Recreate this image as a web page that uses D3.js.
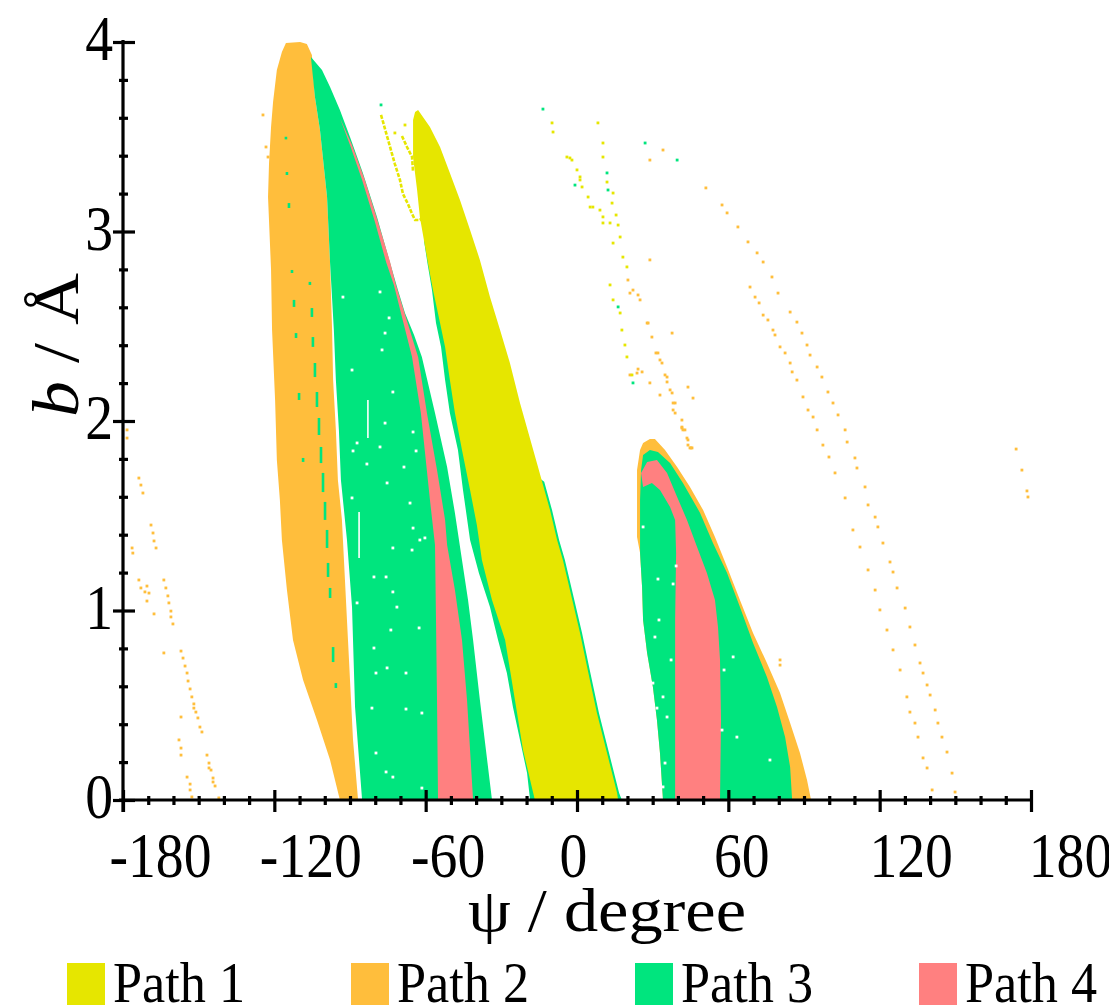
<!DOCTYPE html>
<html>
<head>
<meta charset="utf-8">
<script src="https://cdn.jsdelivr.net/npm/d3@7"></script>
<style>
  html, body { margin: 0; padding: 0; background: #fff; }
  svg { display: block; }
  text { font-family: "Liberation Serif", "DejaVu Serif", serif; fill: #000; }
</style>
</head>
<body>
<svg id="chart" width="1109" height="1008"></svg>
<script>
// ---- series names and colours ----
const pathNames = ["Path 1", "Path 2", "Path 3", "Path 4"];
const pathColors = ["#e6e600", "#ffbe3c", "#00e57e", "#ff8080"];

// ---- axis ticks ----
const xMajorTicks = [-180, -120, -60, 0, 60, 120, 180];
const xMinorTicks = d3.range(-180, 181, 10);
const yMajorTicks = [0, 1, 2, 3, 4];
const yMinorTicks = d3.range(0, 21).map(i => i / 5);

// ---- reactive regions, [psi (degree), b (Å)] ----
// Path 2: large lobe at negative psi
const path2Main = [
  [-119.0,3.852],[-117.0,3.947],[-115.4,3.995],[-109.8,4.0],[-107.1,3.989],[-105.1,3.931],
  [-103.9,3.710],[-101.9,3.536],[-99.1,3.182],[-97.9,2.834],[-97.1,2.480],[-96.7,2.216],
  [-95.6,1.953],[-94.8,1.689],[-93.2,1.478],[-92.8,1.372],[-90.8,0.844],[-88.8,0.317],
  [-86.8,0],[-94.0,0],[-97.9,0.211],[-103.1,0.422],[-108.6,0.633],[-112.6,0.844],
  [-115.0,1.108],[-117.0,1.372],[-117.8,1.583],[-119.0,1.794],[-119.7,2.111],[-120.9,2.480],
  [-121.3,2.797],[-122.5,3.182],[-122.1,3.361],[-121.3,3.551],[-120.5,3.683]
];
// Path 3: band right of the Path 2 lobe
const path3Main = [
  [-105.5,3.921],[-103.9,3.710],[-101.9,3.536],[-99.1,3.182],[-97.9,2.834],[-96.4,2.480],
  [-95.6,2.216],[-94.4,1.953],[-93.6,1.689],[-92.0,1.478],[-91.2,1.372],[-89.2,1.018],
  [-88.0,0.491],[-85.2,0],
  [-33.7,0],[-36.1,0.264],[-38.5,0.528],[-41.2,0.844],[-43.2,1.055],[-45.6,1.266],
  [-48.4,1.515],[-51.5,1.757],[-56.3,2.042],[-61.5,2.338],[-64.6,2.454],[-68.2,2.570],
  [-71.0,2.691],[-74.1,2.834],[-79.3,3.077],[-84.9,3.309],[-90.0,3.499],[-94.0,3.641],
  [-97.9,3.763],[-101.1,3.852]
];
// Path 4: sliver along the right edge of that band
const path4Main = [
  [-94.0,3.599],[-89.2,3.456],[-84.1,3.272],[-78.9,3.050],[-74.1,2.839],[-71.8,2.718],
  [-63.0,2.338],[-59.5,2.042],[-55.5,1.741],[-52.3,1.478],[-51.5,1.346],[-48.4,1.108],
  [-45.6,0.844],[-43.6,0.528],[-41.2,0],
  [-55.1,0],[-55.5,0.528],[-55.9,0.950],[-56.3,1.346],[-58.3,1.583],[-61.9,2.042],
  [-65.4,2.338],[-72.6,2.718],[-75.7,2.839],[-80.1,3.050],[-85.2,3.272],[-90.0,3.456]
];
// Path 3: thin band hugging the Path 1 streak (its inner part sits under Path 1)
const path3Band = [
  [-60.7,2.955],[-59.3,2.834],[-57.5,2.691],[-55.9,2.517],[-53.9,2.391],[-52.3,2.216],
  [-50.4,2.042],[-47.2,1.847],[-45.2,1.636],[-42.4,1.372],[-38.9,1.198],[-34.5,1.018],
  [-31.3,0.844],[-27.8,0.670],[-25.4,0.491],[-22.6,0.317],[-19.8,0.142],[-18.6,0],
  [17.8,0],[16.7,0.037],[12.7,0.248],[8.7,0.459],[4.8,0.702],[2.0,0.881],[-2.0,1.108],
  [-4.8,1.266],[-7.1,1.372],[-9.9,1.530],[-13.0,1.680],[-20.0,1.750],[-30.0,2.200],
  [-40.0,2.600],[-50.0,2.900]
];
// Path 1: main diagonal streak
const path1Main = [
  [-63.0,3.641],[-58.3,3.551],[-54.3,3.446],[-50.4,3.309],[-46.4,3.166],[-42.4,3.008],
  [-38.5,2.850],[-34.5,2.654],[-30.5,2.480],[-26.6,2.306],[-22.6,2.095],[-15.9,1.778],
  [-10.7,1.530],[-7.9,1.372],[-5.6,1.266],[-2.8,1.108],[1.2,0.881],[4.0,0.702],
  [7.9,0.459],[11.9,0.248],[15.9,0.037],[16.3,0],
  [-16.7,0],[-21.4,0.264],[-24.6,0.528],[-28.5,0.844],[-33.7,1.055],[-37.7,1.266],
  [-39.7,1.451],[-42.4,1.636],[-45.6,1.847],[-48.4,2.042],[-50.4,2.216],[-52.3,2.391],
  [-54.3,2.517],[-57.1,2.691],[-59.1,2.834],[-60.7,2.955],[-62.3,3.077],[-63.4,3.219],
  [-65.0,3.393],[-65.0,3.588],[-64.2,3.630]
];
// Path 1: fine filaments left of the streak tip
const path1TailOuter = [
  [-77.7,3.615],[-76.9,3.578],[-74.9,3.483],[-72.2,3.356],[-70.2,3.272],[-69.0,3.198],
  [-67.0,3.145],[-65.4,3.093],[-64.2,3.061],[-62.3,3.061],[-61.1,3.077]
];
const path1TailInner = [[-69.4,3.504],[-67.4,3.446],[-65.4,3.393],[-65.0,3.314]];

// Right-hand lobe
const path2Lobe = [
  [34.1,0],[32.9,0.248],[31.7,0.422],[30.1,0.596],[27.8,0.776],[26.2,0.950],[25.8,1.124],
  [25.0,1.303],[23.8,1.388],[23.8,1.741],[25.0,1.847],[26.2,1.884],[28.9,1.905],[30.9,1.905],
  [34.9,1.847],[39.7,1.757],[44.8,1.652],[50.0,1.530],[54.7,1.388],[59.5,1.230],[64.6,1.055],
  [69.8,0.881],[75.3,0.723],[80.5,0.565],[84.5,0.406],[88.4,0.248],[91.2,0.106],[92.8,0]
];
const path3Lobe = [
  [34.1,0],[32.9,0.248],[31.7,0.422],[30.1,0.596],[27.8,0.776],[26.2,0.950],[25.8,1.124],
  [25.0,1.303],[25.0,1.583],[25.4,1.741],[26.2,1.821],[28.9,1.847],[32.1,1.836],[36.9,1.778],
  [42.0,1.673],[48.8,1.515],[53.9,1.356],[59.5,1.198],[64.6,1.018],[69.8,0.828],[75.3,0.649],
  [79.3,0.491],[82.5,0.332],[84.5,0.174],[85.3,0]
];
const path4Lobe = [
  [25.4,1.726],[27.8,1.784],[31.7,1.794],[35.7,1.726],[39.7,1.599],[43.6,1.478],[47.6,1.335],
  [51.5,1.198],[54.7,1.055],[55.9,0.913],[56.7,0.739],[57.1,0.422],[56.7,0],
  [38.9,0],[38.9,0.528],[38.9,0.950],[39.3,1.303],[38.9,1.478],[36.9,1.546],[32.9,1.636],
  [29.7,1.673],[26.2,1.652]
];

// Path 3 runs inside the Path 2 lobe: [psi, b top, b bottom]
const path3Streaks = [
  [-112.2,2.639,2.602],[-105.1,2.596,2.549],[-111.4,2.464,2.438],[-104.7,2.443,2.391],
  [-103.9,2.306,2.232],[-110.2,2.148,2.111],[-103.1,2.153,2.074],[-102.3,2.016,1.926],
  [-101.5,1.863,1.778],[-108.6,1.805,1.784],[-100.7,1.726,1.625],[-99.9,1.573,1.478],
  [-99.1,1.425,1.330],[-115.4,3.500,3.486],[-115.0,3.314,3.298],[-114.2,3.150,3.124],
  [-113.0,2.797,2.781],[-105.9,2.734,2.718],[-98.7,1.251,1.177],[-97.9,1.119,1.066],
  [-96.7,0.807,0.728],[-95.6,0.617,0.591]
];
// unreacted samples inside the coloured regions
const gapDots = [
  [-92.8,2.654],[-78.1,2.681],[-74.5,2.544],[-76.1,2.464],[-77.3,2.375],[-89.2,2.269],
  [-73.0,2.153],[-76.1,1.989],[-65.0,1.942],[-87.2,1.884],[-78.1,1.863],[-88.8,1.842],
  [-63.8,1.842],[-83.3,1.773],[-68.6,1.757],[-75.3,1.673],[-89.2,1.594],[-66.2,1.567],
  [-65.0,1.435],[-73.0,1.330],[-65.4,1.319],[-62.3,1.372],[-60.3,1.383],[-80.5,1.177],
  [-75.7,1.177],[-73.0,1.098],[-87.2,1.040],[-71.4,1.018],[-73.8,0.897],[-62.6,0.908],
  [-80.5,0.802],[-75.3,0.697],[-67.8,0.670],[-79.7,0.670],[-81.3,0.485],[-67.8,0.480],
  [-61.5,0.459],[-79.7,0.248],[-75.7,0.148],[-73.0,0.121],[-61.5,0.063],
  [26.2,1.441],[39.3,1.235],[32.1,1.166],[38.1,1.140],[32.5,0.950],[30.9,0.860],[37.3,0.739],
  [61.9,0.755],[58.3,0.686],[30.1,0.617],[34.1,0.544],[31.7,0.485],[35.7,0.438],[63.4,0.332],
  [34.9,0.195],[34.1,0.069],[76.5,0.211],[57.5,0.369]
];
// thin unreacted seams: [psi, b top, b bottom]
const gapSeams = [[-82.9,2.111,1.910],[-86.4,1.520,1.277]];

// ---- isolated trajectories ----
const path2Dots = [
  [-178.4,1.953],[-178.4,1.910],[-173.7,1.699],[-172.9,1.662],[-172.1,1.620],[-168.9,1.451],
  [-168.1,1.409],[-167.7,1.367],[-166.9,1.330],[-176.4,1.330],[-176.1,1.303],[-173.7,1.161],
  [-172.9,1.119],[-171.3,1.098],[-170.5,1.129],[-169.7,1.092],[-170.5,1.050],[-167.7,0.982],
  [-163.8,1.161],[-163.0,1.119],[-162.2,1.077],[-161.8,1.040],[-161.0,0.997],[-161.0,0.966],
  [-160.2,0.929],[-163.8,0.776],[-157.0,0.786],[-156.2,0.749],[-155.4,0.707],[-154.6,0.670],
  [-154.2,0.628],[-153.4,0.586],[-152.7,0.544],[-151.9,0.507],[-151.9,0.485],[-151.1,0.464],
  [-150.3,0.433],[-149.5,0.385],[-148.7,0.359],[-157.0,0.438],[-157.8,0.317],[-157.0,0.274],
  [-157.0,0.237],[-146.7,0.237],[-145.9,0.195],[-145.9,0.169],[-145.1,0.158],[-144.3,0.116],
  [-144.3,0.095],[-143.5,0.074],[-154.6,0.121],[-153.4,0.084],[-153.4,0.053],[-152.7,0.016],
  [-142.0,0.011],[-124.5,3.615],[-123.3,3.446],[-122.5,3.393],
  [23.8,2.253],[28.9,2.201],[32.9,2.137],[38.1,2.058],[42.0,1.953],[44.0,1.900],[45.6,1.858],
  [20.2,2.744],[21.0,2.675],[22.2,2.691],[24.2,2.665],[25.0,2.639],[27.8,2.517],[28.2,2.517],
  [29.7,2.443],[31.3,2.359],[32.1,2.359],[32.9,2.322],[33.7,2.306],[34.9,2.243],[35.7,2.232],
  [35.7,2.206],[36.9,2.164],[37.7,2.148],[38.1,2.095],[38.9,2.095],[38.9,2.042],[41.6,2.005],
  [41.6,1.963],[41.6,1.968],[42.8,1.953],[43.6,1.910],[44.0,1.873],[44.8,1.858],[45.2,1.858],
  [44.0,2.179],[46.0,2.121],[21.0,2.243],[24.2,2.274],[25.8,2.259],[37.7,2.464],[28.9,2.850],
  [34.1,3.430],[28.9,3.377],[51.1,3.230],
  [57.5,3.140],[59.5,3.098],[63.8,3.024],[67.8,2.945],[71.4,2.887],[73.8,2.839],[77.3,2.760],
  [79.7,2.675],[84.5,2.575],[87.2,2.522],[89.2,2.464],[91.2,2.401],[92.4,2.348],[95.2,2.285],
  [97.1,2.232],[99.5,2.153],[101.5,2.095],[103.5,2.032],[106.3,1.953],[107.1,1.889],[110.2,1.805],
  [111.0,1.752],[114.2,1.652],[115.4,1.557],[118.2,1.493],[119.3,1.441],[121.3,1.356],[124.1,1.256],
  [125.3,1.203],[126.9,1.119],[130.1,1.013],[132.0,0.913],[134.0,0.818],[136.0,0.723],[137.2,0.670],
  [138.8,0.607],[140.0,0.554],[142.0,0.475],[143.1,0.406],[144.7,0.332],[146.7,0.253],[148.7,0.142],
  [149.9,0.042],
  [68.6,2.707],[70.6,2.654],[72.2,2.623],[73.8,2.559],[75.7,2.533],[77.7,2.480],[78.5,2.454],
  [80.5,2.391],[82.5,2.359],[84.5,2.306],[85.3,2.259],[87.2,2.216],[89.6,2.127],[91.6,2.058],
  [93.6,2.021],[95.2,1.953],[97.5,1.873],[99.9,1.810],[102.3,1.726],[106.3,1.594],[109.4,1.425],
  [112.2,1.335],[115.4,1.214],[118.2,1.108],[120.1,1.003],[122.9,0.897],[125.3,0.792],[128.1,0.686],
  [130.8,0.544],[132.0,0.464],[134.0,0.406],[135.2,0.332],[137.2,0.222],[138.8,0.169],[140.8,0.053],
  [80.5,0.739],[80.5,0.712],[174.1,1.852],[176.4,1.741],[178.4,1.631],[178.8,1.599]
];
const path1Dots = [
  [8.3,3.573],[10.3,3.467],[10.3,3.393],[11.9,3.261],[14.3,3.203],[13.9,3.150],[15.5,3.087],
  [16.3,3.034],[17.1,2.971],[14.3,2.939],[18.2,2.865],[19.8,2.813],[13.1,2.718],[14.3,2.639],
  [17.1,2.570],[17.8,2.480],[19.0,2.401],[19.8,2.338],[21.8,2.243],[-9.9,3.573],[-9.5,3.525],
  [-4.0,3.393],[-2.0,3.377],[0.0,3.325],[1.2,3.288],[2.0,3.235],[4.4,3.182],[6.3,3.129],
  [9.1,3.113],[10.3,3.077],[13.1,3.045],[-2.8,3.388],[1.2,3.272],[5.2,3.129],[10.3,3.045],
  [-72.2,3.520],[-68.2,3.562]
];
const path3Dots = [
  [27.0,3.467],[39.7,3.377],[-13.5,3.646],[11.9,3.309],[12.3,3.219],[16.3,2.602],[22.2,2.201],
  [-0.8,3.245],[-77.7,3.668]
];

// ---- layout ----
const svg = d3.select("#chart");
const plot = { left: 123, right: 1031, top: 42, bottom: 800 };
const x = d3.scaleLinear().domain([-180, 180]).range([plot.left, plot.right]);
const y = d3.scaleLinear().domain([0, 4]).range([plot.bottom, plot.top]);

svg.append("defs").append("clipPath").attr("id", "plotClip")
  .append("rect").attr("x", plot.left).attr("y", plot.top)
  .attr("width", plot.right - plot.left).attr("height", plot.bottom - plot.top);

const regions = svg.append("g").attr("clip-path", "url(#plotClip)");
const area = d3.line().x(d => x(d[0])).y(d => y(d[1])).curve(d3.curveLinearClosed);
const trace = d3.line().x(d => x(d[0])).y(d => y(d[1]));

const layers = [
  [path2Main, 1], [path3Main, 2], [path4Main, 3], [path3Band, 2], [path1Main, 0],
  [path2Lobe, 1], [path3Lobe, 2], [path4Lobe, 3]
];
layers.forEach(([pts, k]) => {
  regions.append("path").attr("d", area(pts)).attr("fill", pathColors[k]);
});
[path1TailOuter, path1TailInner].forEach(pts => {
  regions.append("path").attr("d", trace(pts)).attr("fill", "none")
    .attr("stroke", pathColors[0]).attr("stroke-width", 2.6)
    .attr("stroke-dasharray", "4,1.5");
});

// short vertical runs (streaks inside a region, and unreacted seams)
const runs = (data, color, w) => regions.append("g").selectAll("line").data(data).join("line")
  .attr("x1", d => x(d[0])).attr("x2", d => x(d[0]))
  .attr("y1", d => y(d[1])).attr("y2", d => y(d[2]))
  .attr("stroke", color).attr("stroke-width", w);
runs(path3Streaks, pathColors[2], 2.6);
runs(gapSeams, "#fff", 1.6);

const dotSets = [[gapDots, "#fff"], [path2Dots, pathColors[1]], [path1Dots, pathColors[0]],
                 [path3Dots, pathColors[2]]];
dotSets.forEach(([pts, c]) => {
  regions.append("g").selectAll("rect").data(pts).join("rect")
    .attr("x", d => x(d[0]) - 1.4).attr("y", d => y(d[1]) - 1.4)
    .attr("width", 2.8).attr("height", 2.8).attr("fill", c);
});

// ---- axes ----
const squeeze = 0.87;
const xLabelShift = { "-180": 37, "-120": 36, "-60": 22, "0": -4, "60": 13, "120": 31, "180": 39 };

const xAxisG = svg.append("g").attr("transform", `translate(0,${plot.bottom})`)
  .call(d3.axisBottom(x).tickValues(xMinorTicks).tickSizeOuter(0)
    .tickFormat(d => xMajorTicks.includes(d) ? String(d) : ""));
xAxisG.select(".domain").attr("stroke", "#000").attr("stroke-width", 3.2)
  .attr("d", `M${plot.left - 4},0H${plot.right}`);
xAxisG.selectAll(".tick line").attr("stroke", "#000").attr("stroke-width", 3.2)
  .attr("y1", d => xMajorTicks.includes(d) ? -10 : -4)
  .attr("y2", d => xMajorTicks.includes(d) ? 12 : 5);
xAxisG.selectAll(".tick text")
  .attr("font-family", "Liberation Serif").attr("font-size", 64)
  .attr("y", 77).attr("dy", null)
  .attr("x", d => (xLabelShift[String(d)] || 0) / squeeze)
  .attr("transform", `scale(${squeeze},1)`);

const yAxisG = svg.append("g").attr("transform", `translate(${plot.left},0)`)
  .call(d3.axisLeft(y).tickValues(yMinorTicks).tickSizeOuter(0)
    .tickFormat(d => yMajorTicks.includes(d) ? String(d) : ""));
yAxisG.select(".domain").attr("stroke", "#000").attr("stroke-width", 3.2)
  .attr("d", `M0,${plot.top - 2}V${plot.bottom + 12}`);
yAxisG.selectAll(".tick line").attr("stroke", "#000").attr("stroke-width", 3.2)
  .attr("x1", d => yMajorTicks.includes(d) ? -10 : -4)
  .attr("x2", d => yMajorTicks.includes(d) ? 12 : 5);
yAxisG.selectAll(".tick text")
  .attr("font-family", "Liberation Serif").attr("font-size", 64)
  .attr("x", -10 / squeeze).attr("dy", "0.28em")
  .attr("transform", `scale(${squeeze},1)`);

// ---- axis titles ----
svg.append("text").attr("x", 468).attr("y", 931).attr("font-size", 62)
  .attr("textLength", 278).attr("lengthAdjust", "spacingAndGlyphs")
  .text("ψ / degree");

const yTitle = svg.append("text").attr("transform", "translate(78,417) rotate(-90)")
  .attr("font-size", 66).attr("textLength", 144).attr("lengthAdjust", "spacingAndGlyphs");
yTitle.append("tspan").attr("font-style", "italic").text("b");
yTitle.append("tspan").text(" / Å");

// ---- legend ----
const legend = svg.append("g").attr("transform", "translate(67,963)");
const item = legend.selectAll("g").data(pathNames).join("g")
  .attr("transform", (d, i) => `translate(${i * 284},0)`);
item.append("rect").attr("width", 38).attr("height", 42)
  .attr("fill", (d, i) => pathColors[i]);
item.append("text").attr("x", 46).attr("y", 39).attr("font-size", 56)
  .attr("textLength", 132).attr("lengthAdjust", "spacingAndGlyphs")
  .text(d => d);
</script>
</body>
</html>
